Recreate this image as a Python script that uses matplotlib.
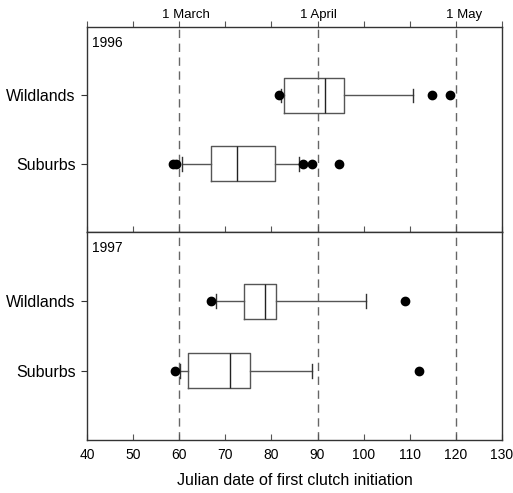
import matplotlib
matplotlib.use("Agg")
import matplotlib.pyplot as plt

plt.rcParams['font.family'] = ['Liberation Sans', 'DejaVu Sans']

years = ["1996", "1997"]
groups = ["Suburbs", "Wildlands"]

# per year: [Suburbs, Wildlands]
whislo = {"1996": [60.6, 82.1], "1997": [60.2, 68.0]}
q1 = {"1996": [67.0, 82.7], "1997": [61.8, 74.0]}
med = {"1996": [72.5, 91.7], "1997": [71.1, 78.5]}
q3 = {"1996": [80.8, 95.7], "1997": [75.3, 80.9]}
whishi = {"1996": [86.0, 110.8], "1997": [88.9, 100.4]}
fliers = {"1996": [[58.6, 59.4, 86.8, 88.7, 94.7], [81.7, 114.8, 118.7]],
          "1997": [[59.1, 112.0], [67.0, 108.9]]}

month_pos = [60, 90, 120]
month_labels = ["1 March", "1 April", "1 May"]
month_label_x = [61.5, 90.2, 121.8]
xticks = list(range(40, 131, 10))

W, H = 513, 493
fig = plt.figure(figsize=(W / 100, H / 100), dpi=100)
left = 87 / W
width = (502 - 87) / W
ax_top = fig.add_axes([left, 1 - 232 / H, width, (232 - 27) / H])
ax_bot = fig.add_axes([left, 1 - 440 / H, width, (440 - 232) / H])

edge = '#555555'
for ax, yr in [(ax_top, "1996"), (ax_bot, "1997")]:
    stats = []
    for i, g in enumerate(groups):
        stats.append(dict(label=g, whislo=whislo[yr][i], q1=q1[yr][i], med=med[yr][i],
                          q3=q3[yr][i], whishi=whishi[yr][i], fliers=fliers[yr][i]))
    ax.bxp(stats, positions=[1, 2], widths=0.51, orientation='horizontal',
           capwidths=0.2, showfliers=True,
           boxprops=dict(color=edge, linewidth=1.0),
           whiskerprops=dict(color=edge, linewidth=1.0),
           capprops=dict(color='#333333', linewidth=1.0),
           medianprops=dict(color='#222222', linewidth=1.0),
           flierprops=dict(marker='o', markerfacecolor='black', markeredgecolor='black',
                           markersize=6, linestyle='none'))
    for m in month_pos:
        ax.axvline(m, color='#666666', linestyle=(0, (6, 4)), linewidth=1.0, zorder=0)
    ax.set_xlim(40, 130)
    ax.set_ylim(0, 3)
    ax.set_yticks([1, 2])
    ax.set_yticklabels(groups, fontsize=11.5)
    ax.tick_params(axis='y', direction='out', length=4, width=0.8, pad=4, color='#333333')
    ax.set_xticks(xticks)
    ax.text(0.012, 1 - 16 / 205, yr, transform=ax.transAxes, fontsize=10, ha='left', va='center')
    for s in ax.spines.values():
        s.set_color('#333333')
        s.set_linewidth(1.0)

# top panel: inward ticks on its bottom spine, outward ticks on the top spine
ax_top.tick_params(axis='x', bottom=True, top=False, labelbottom=False, direction='in',
                   length=4, width=0.8, color='#555555')
sec = ax_top.secondary_xaxis('top')
sec.set_xticks(xticks)
sec.tick_params(axis='x', direction='out', length=4, width=0.8, color='#555555',
                labeltop=False)
sec.spines['top'].set_visible(False)

ax_bot.tick_params(axis='x', bottom=True, top=False, direction='in', length=4, width=0.8,
                   color='#555555', labelsize=10, pad=6)
ax_bot.set_xticklabels([str(t) for t in xticks])
ax_bot.set_xlabel("Julian date of first clutch initiation", fontsize=11.5, labelpad=8)

for x, lab in zip(month_label_x, month_labels):
    ax_top.text(x, 1.0 + 6 / 205, lab, transform=ax_top.get_xaxis_transform(), ha='center',
                va='bottom', fontsize=9.5)

fig.savefig("out.png", dpi=100)
